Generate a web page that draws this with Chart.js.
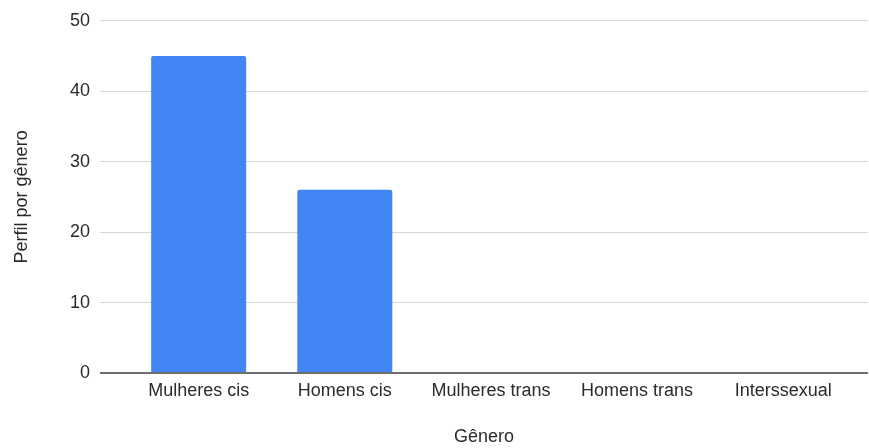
<!DOCTYPE html>
<html>
<head>
<meta charset="utf-8">
<title>Perfil por gênero</title>
<script src="https://cdn.jsdelivr.net/npm/chart.js@4.4.1/dist/chart.umd.min.js"></script>
<style>
  html, body { margin: 0; padding: 0; background: #ffffff; }
  #wrap { width: 869px; height: 448px; position: relative; }
</style>
</head>
<body>
<div id="wrap"><canvas id="chart"></canvas></div>
<script>
// Categories and counts
const categories = ['Mulheres cis', 'Homens cis', 'Mulheres trans', 'Homens trans', 'Interssexual'];
const counts = [45, 26, 0, 0, 0];
const yTicks = [0, 10, 20, 30, 40, 50];

const FONT = '"Liberation Sans", Arial, sans-serif';
const TEXT = '#2b2b2b';

// bars placed at integer positions on a numeric x axis so the
// category band can sit inside a wider grid area
const points = categories.map((c, i) => ({ x: i, y: counts[i] }));

new Chart(document.getElementById('chart'), {
  type: 'bar',
  data: {
    datasets: [{
      label: 'Perfil por gênero',
      data: points,
      backgroundColor: '#4285F4',
      borderWidth: 0,
      borderRadius: { topLeft: 2, topRight: 2, bottomLeft: 0, bottomRight: 0 },
      borderSkipped: 'bottom',
      categoryPercentage: 0.65,
      barPercentage: 1.0
    }]
  },
  options: {
    responsive: true,
    maintainAspectRatio: false,
    animation: false,
    layout: { padding: { top: 20, right: 1, left: 0, bottom: 0 } },
    plugins: {
      legend: { display: false },
      tooltip: { enabled: false }
    },
    scales: {
      x: {
        type: 'linear',
        offset: false,
        min: -0.675,
        max: 4.58,
        grid: { display: false, drawTicks: false, offset: false },
        border: { display: false },
        afterBuildTicks: (scale) => {
          scale.ticks = categories.map((c, i) => ({ value: i }));
        },
        afterFit: (scale) => { scale.height = 75; },
        ticks: {
          autoSkip: false,
          maxRotation: 0,
          padding: 7,
          color: TEXT,
          font: { family: FONT, size: 18 },
          callback: (v) => categories[v] ?? ''
        },
        title: {
          display: true,
          text: 'Gênero',
          color: TEXT,
          font: { family: FONT, size: 18 },
          padding: { top: 0, bottom: 0 }
        }
      },
      y: {
        min: yTicks[0],
        max: yTicks[yTicks.length - 1],
        afterBuildTicks: (scale) => {
          scale.ticks = yTicks.map(v => ({ value: v }));
        },
        afterFit: (scale) => { scale.width = 100; },
        grid: {
          drawTicks: false,
          color: (ctx) => ctx.tick && ctx.tick.value === 0 ? '#6e6e6e' : '#d6d6d6',
          lineWidth: (ctx) => ctx.tick && ctx.tick.value === 0 ? 2 : 1
        },
        border: { display: false },
        ticks: {
          padding: 10,
          color: TEXT,
          font: { family: FONT, size: 18 }
        },
        title: {
          display: true,
          text: 'Perfil por gênero',
          color: TEXT,
          font: { family: FONT, size: 18 },
          padding: { top: 11, bottom: 0 }
        }
      }
    }
  }
});
</script>
</body>
</html>
